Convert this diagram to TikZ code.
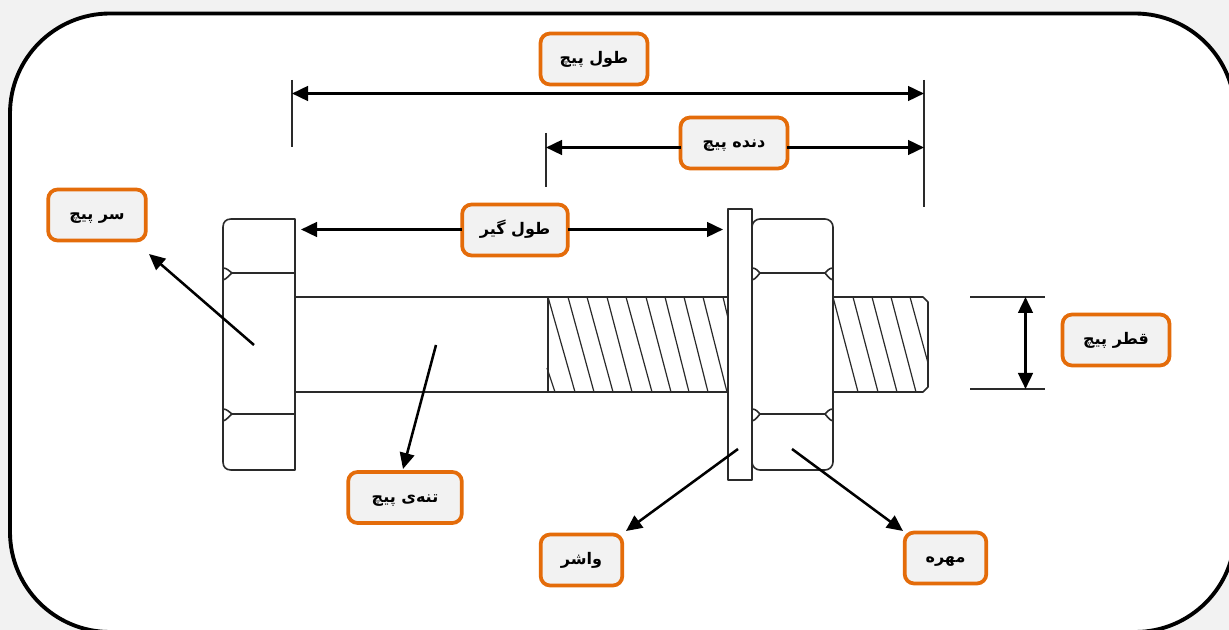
\documentclass[tikz,border=0pt]{standalone}
\usepackage{fontspec}
\usetikzlibrary{arrows.meta}
\TeXXeTstate=1
\newfontfamily\arabicfont[Script=Arabic]{DejaVu Sans}
\definecolor{pagebg}{HTML}{F2F2F2}
\definecolor{boxedge}{HTML}{E46C0A}
\definecolor{partline}{HTML}{2A2A2A}
\tikzset{
  x=0.75pt,y=-0.75pt,
  labelbox/.style={draw=boxedge,fill=pagebg,line width=2.8pt,rounded corners=7pt,minimum height=38.2pt,inner sep=0pt,outer sep=0pt,font=\arabicfont\bfseries\fontsize{12}{14}\selectfont},
  leader/.style={black,line width=1.9pt,-{Triangle[length=12pt,width=11pt]}},
  dimline/.style={black,line width=1.9pt,{Triangle[length=12pt,width=11pt]}-{Triangle[length=12pt,width=11pt]}},
  dimstart/.style={black,line width=1.9pt,{Triangle[length=12pt,width=11pt]}-},
  dimend/.style={black,line width=1.9pt,-{Triangle[length=12pt,width=11pt]}},
  extline/.style={partline,line width=0.8pt},
  part/.style={partline,line width=1.2pt,line join=round},
  hatch/.style={partline,line width=0.9pt},
}
\newcommand{\fa}[1]{\raisebox{-3.5pt}[0pt][0pt]{\beginR #1\endR}}
\begin{document}
\begin{tikzpicture}
\useasboundingbox (0,0) rectangle (1229,630);
\clip (0,0) rectangle (1229,630);
\fill[pagebg] (0,0) rectangle (1229,630);
\draw[black,line width=2.9pt,fill=white,rounded corners=75pt] (10,13.5) rectangle (1235,632);

% bolt
\draw[part,fill=white] (295,297) -- (923,297) -- (928,302) -- (928,387) -- (923,392) -- (295,392);
\draw[part] (548,297) -- (548,392);
\foreach \a/\b in {548/575,568/594,587/613,607/632,626/652,646/671,665/689,684/708,703/727}
  \draw[hatch] (\a,297) -- (\b,392);
\draw[hatch] (547,368) -- (555,392);
\draw[hatch] (723,297) -- (728,318);
\foreach \a/\b in {833/858,853/878,872/897,891/916}
  \draw[hatch] (\a,297) -- (\b,392);
\draw[hatch] (910,297) -- (928,363);
% head
\draw[part,fill=white] (295,219) -- (231,219) .. controls (226,219) and (223,222) .. (223,227) -- (223,462) .. controls (223,467) and (226,470) .. (231,470) -- (295,470) -- cycle;
\draw[part] (232,273) -- (295,273) (232,414) -- (295,414);
\draw[part] (223,268) .. controls (227,268) and (229,271) .. (232,273) .. controls (229,275) and (227,279) .. (223,280);
\draw[part] (223,409) .. controls (227,409) and (229,412) .. (232,414) .. controls (229,416) and (227,420) .. (223,421);
% washer
\draw[part,fill=white] (728,209) rectangle (752,480);
% nut
\draw[part,fill=white,rounded corners=6pt] (752,219) rectangle (833,470);
\draw[part] (760,273) -- (825,273) (760,414) -- (825,414);
\draw[part] (752,268) .. controls (756,268) and (758,271) .. (760,273) .. controls (758,275) and (756,279) .. (752,280);
\draw[part] (833,268) .. controls (829,268) and (827,271) .. (825,273) .. controls (827,275) and (829,279) .. (833,280);
\draw[part] (752,409) .. controls (756,409) and (758,412) .. (760,414) .. controls (758,416) and (756,420) .. (752,421);
\draw[part] (833,409) .. controls (829,409) and (827,412) .. (825,414) .. controls (827,416) and (829,420) .. (833,421);

% extension lines
\coordinate (eA1) at (292,80); \coordinate (eA2) at (292,147);
\coordinate (eB1) at (924,80); \coordinate (eB2) at (924,207);
\coordinate (eC1) at (546,133); \coordinate (eC2) at (546,187);
\coordinate (eD1) at (970,297); \coordinate (eD2) at (1045,297);
\coordinate (eE1) at (970,389); \coordinate (eE2) at (1045,389);
\draw[extline] (eA1) -- (eA2);
\draw[extline] (eB1) -- (eB2);
\draw[extline] (eC1) -- (eC2);
\draw[extline] (eD1) -- (eD2);
\draw[extline] (eE1) -- (eE2);

% labels
\node[labelbox,minimum width=80.2pt] (total) at (594,59) {\fa{طول پیچ}};
\node[labelbox,minimum width=80.2pt] (thread) at (734,143) {\fa{دنده پیچ}};
\node[labelbox,minimum width=79.2pt] (grip) at (515,230) {\fa{طول گیر}};
\node[labelbox,minimum width=73.2pt] (head) at (97,215) {\fa{سر پیچ}};
\node[labelbox,minimum width=80.2pt] (dia) at (1116,340) {\fa{قطر پیچ}};
\node[labelbox,minimum width=85.2pt] (body) at (405,497.5) {\fa{تنه‌ی پیچ}};
\node[labelbox,minimum width=61.2pt] (washer) at (581.5,560) {\fa{واشر}};
\node[labelbox,minimum width=61.2pt] (nut) at (945.5,558) {\fa{مهره}};

% dimension arrows
\coordinate (tL) at (292,93.5); \coordinate (tR) at (924,93.5);
\coordinate (thL) at (546,147.5); \coordinate (thR) at (924,147.5);
\coordinate (gL) at (301,229.5); \coordinate (gR) at (723,229.5);
\coordinate (dT) at (1025.5,297); \coordinate (dB) at (1025.5,389);
\draw[dimline] (tL) -- (tR);
\draw[dimstart] (thL) -- (thread.west |- thL);
\draw[dimend] (thread.east |- thR) -- (thR);
\draw[dimstart] (gL) -- (grip.west |- gL);
\draw[dimend] (grip.east |- gR) -- (gR);
\draw[dimline] (dT) -- (dB);

% leaders
\coordinate (lH) at (254,345); \coordinate (lHe) at (149,254);
\coordinate (lB) at (436,345); \coordinate (lBe) at (403,469);
\coordinate (lW) at (738,449); \coordinate (lWe) at (626,531);
\coordinate (lN) at (792,449); \coordinate (lNe) at (903,531);
\draw[leader] (lH) -- (lHe);
\draw[leader] (lB) -- (lBe);
\draw[leader] (lW) -- (lWe);
\draw[leader] (lN) -- (lNe);
\end{tikzpicture}
\end{document}
